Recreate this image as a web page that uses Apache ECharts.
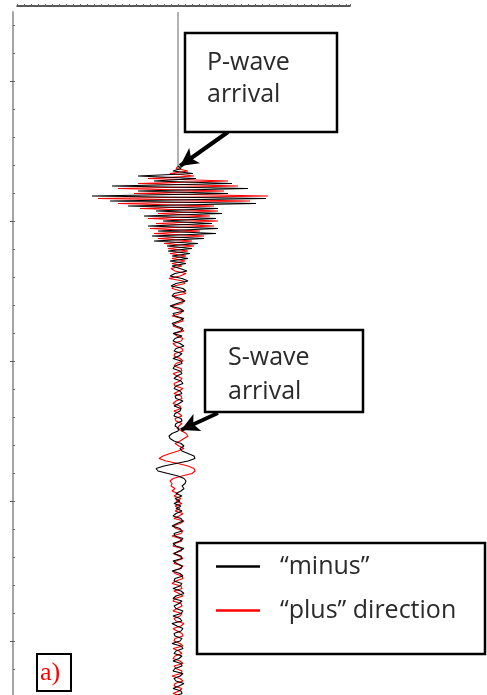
<!DOCTYPE html>
<html>
<head>
<meta charset="utf-8">
<script src="https://cdn.jsdelivr.net/npm/echarts@6/dist/echarts.min.js"></script>
<style>
html,body{margin:0;padding:0;background:#fff;}
#chart{width:487px;height:695px;}
</style>
</head>
<body>
<div id="chart"></div>
<script>
// ---- sampling of the traces (time in px-like units, 0 = top of time axis) ----
const SAMPLE_START = 154;
const SAMPLE_STEP = 2.5;
const PRE_EVENT_END = 156;

// "minus" trace (black) amplitudes
const minusP = [
  0, 3, -5, 15, -40, 18, -24, 54, -66, 70,
  -40, 50, -86, 88, -68, 78, -50, 40, -22, 44,
  -34, 38, -15, 34, -30, 40, -20, 38, -26, 26,
  -24, 20, -11, 14, -10, 12, -6, 10, -8, 8
];
const minusCoda = [
  -6, 2, 9, -3, -8, 4, 10, -2, -7, 5,
  8, -4, -6, 3, 7, -1, -8, 2, 6, -5,
  -3, 6, 1, -6, -2, 5, 3, -5, 4, -3,
  -5, 2, 6, -2, -4, 4, 1, -5, 3, 4,
  -3, -5, 2, 4, -1, -4, 3, 5, -2, -4,
  2, 4, -3, -2, 5, 1, -4, 3, 2, -3,
  -4, 3, 4, -2, -3, 1
];
const minusS = [
  0, -6, -9, -8, -4, 3, 6, 2, 4, 10,
  16, 17, 10, -2, -14, -22, -20, -10, 0, 6,
  8, 7, 4, 6, 3, -2, 4, -3, 2, -4,
  3, -2
];
const minusTail = [
  4, -2, -5, 3, 5, -1, -6, 2, 4, -4,
  -3, 5, 2, -5, -2, 6, 1, -4, 3, 4,
  -5, -1, 4, 3, -6, 2, 5, -3, -4, 4,
  2, -5, 3, 6, -2, -5, 4, 1, -4, -2,
  5, 3, -5, 2, 4, -6, -1, 5, 3, -4,
  -3, 4, 2, -6, 3, 5, -2, -4, 4, 1,
  -5, 3, 4, -3, -5, 5, 2, -4, -2, 6,
  1, -5, 3, 4, -3
];

// "plus" trace (red) amplitudes
const plusP = [
  0, -2, 10, -8, 16, -30, 50, -40, 60, -60,
  46, -44, 90, -80, 72, -60, 36, -38, 40, -20,
  32, -30, 40, -22, 36, -28, 22, -24, 26, -20,
  14, -14, 16, -10, 10, -8, 8, -6, 7, -6
];
const plusCoda = [
  4, -7, -3, 8, 2, -9, 5, 7, -4, -6,
  3, 8, -5, -2, 6, 4, -7, -3, 5, 2,
  -6, 4, 5, -3, -5, 2, 6, -4, -1, 5,
  3, -5, -2, 4, 5, -3, -4, 2, 5, -2,
  -4, 3, 4, -5, -1, 4, 2, -4, -3, 5,
  1, -4, 3, 4, -2, -5, 2, 3, -4, 1,
  4, -3, -2, 4, 1, -1
];
const plusS = [
  4, 8, 10, 6, 2, -3, 1, 6, 0, -8,
  -15, -19, -12, 0, 10, 16, 17, 14, 4, -5,
  -8, -6, -7, -3, -6, 0, -4, 3, -2, 4,
  -3, 2
];
const plusTail = [
  -3, 5, 1, -4, 6, 2, -5, -2, 5, 3,
  -6, 2, 4, -3, -5, 4, 3, -5, 1, 5,
  -2, -4, 5, 2, -5, -3, 4, 5, -2, -6,
  3, 4, -4, 1, 5, -3, -5, 3, 4, -1,
  -5, 4, 2, -4, -2, 6, 3, -5, -1, 4,
  5, -3, -4, 2, 5, -5, 1, 4, -3, -5,
  2, 5, -4, -2, 4, 3, -6, 2, 5, -3,
  -4, 4, 1, -5, 3
];

// left time-axis ticks
const majorTicks = [69, 209, 349, 489, 629];
const minorTicks = [13, 41, 97, 125, 153, 181, 237, 265, 293, 321, 377, 405, 433, 461, 517, 545, 573, 601, 657];

// annotation arrows [amplitude, time]
const pArrow = [[50, 120], [2, 154]];
const sArrow = [[40, 401], [3, 418]];

const seriesNames = ['\u201Cminus\u201D', '\u201Cplus\u201D direction'];

function toPoints(amps) {
  return amps.map((a, i) => [a, SAMPLE_START + i * SAMPLE_STEP]);
}
const minusData = toPoints([].concat(minusP, minusCoda, minusS, minusTail));
const plusData = toPoints([].concat(plusP, plusCoda, plusS, plusTail));

const chart = echarts.init(document.getElementById('chart'), null, {renderer: 'canvas'});
const FONT = '"Open Sans", Lato, sans-serif';

const yBase = {
  type: 'value', inverse: true, min: 0, max: 683, position: 'left',
  axisLabel: {show: false}, splitLine: {show: false}
};

chart.setOption({
  animation: false,
  backgroundColor: '#fff',
  grid: {left: 17, right: 137, top: 12, bottom: 0},
  xAxis: {
    type: 'value', min: -161, max: 172, interval: 7, position: 'top', offset: 6,
    axisLine: {show: true, onZero: false, lineStyle: {color: '#222', width: 1.5}},
    axisTick: {show: true, length: 2, lineStyle: {color: '#666'}},
    axisLabel: {show: false}, splitLine: {show: false}
  },
  yAxis: [
    Object.assign({}, yBase, {
      offset: 4,
      axisLine: {show: true, onZero: false, lineStyle: {color: '#a5a5a5', width: 2}},
      axisTick: {show: true, inside: true, length: 2, customValues: majorTicks.concat(minorTicks), lineStyle: {color: '#666'}}
    }),
    Object.assign({}, yBase, {
      offset: 4,
      axisLine: {show: false, onZero: false},
      axisTick: {show: true, inside: false, length: 3, customValues: majorTicks, lineStyle: {color: '#555'}}
    })
  ],
  legend: {
    show: true, orient: 'vertical', left: 216, top: 554, padding: 0,
    itemWidth: 44, itemHeight: 2.5, itemGap: 19, icon: 'rect',
    selectedMode: false,
    data: seriesNames,
    textStyle: {fontFamily: FONT, fontSize: 25, color: '#2a2a2a', padding: [0, 0, 0, 15]}
  },
  series: [
    {
      name: 'pre-event', type: 'line', showSymbol: false, silent: true,
      data: [[0, 0], [0, PRE_EVENT_END]],
      lineStyle: {color: '#9a9a9a', width: 1.5},
      markLine: {
        silent: true, symbol: ['none', 'arrow'], symbolSize: [14, 18],
        label: {show: false},
        lineStyle: {color: '#000', width: 4, type: 'solid'},
        data: [
          [{coord: pArrow[0]}, {coord: pArrow[1]}],
          [{coord: sArrow[0]}, {coord: sArrow[1]}]
        ]
      }
    },
    {
      name: seriesNames[1], type: 'line', showSymbol: false, data: plusData,
      lineStyle: {color: '#ff0000', width: 1.1}, itemStyle: {color: '#ff0000'}
    },
    {
      name: seriesNames[0], type: 'line', showSymbol: false, data: minusData,
      lineStyle: {color: '#000', width: 1.1}, itemStyle: {color: '#000'}
    }
  ],
  graphic: [
    {type: 'rect', shape: {x: 185, y: 33, width: 152, height: 99},
     style: {fill: '#fff', stroke: '#000', lineWidth: 2.5}, z: 100},
    {type: 'text', x: 207, y: 47, z: 101,
     style: {text: 'P-wave\narrival', font: '25px ' + FONT, fill: '#2a2a2a', lineHeight: 32, verticalAlign: 'top'}},
    {type: 'rect', shape: {x: 205, y: 330, width: 158, height: 82},
     style: {fill: '#fff', stroke: '#000', lineWidth: 2.5}, z: 100},
    {type: 'text', x: 228, y: 341, z: 101,
     style: {text: 'S-wave\narrival', font: '25px ' + FONT, fill: '#2a2a2a', lineHeight: 34, verticalAlign: 'top'}},
    {type: 'rect', shape: {x: 197, y: 543, width: 288, height: 111},
     style: {fill: 'none', stroke: '#000', lineWidth: 2.5}, z: 100},
    {type: 'rect', shape: {x: 37, y: 654, width: 34, height: 37},
     style: {fill: '#fff', stroke: '#000', lineWidth: 2}, z: 100},
    {type: 'text', x: 40, y: 673, z: 101,
     style: {text: 'a)', font: '26px "Liberation Serif", serif', fill: '#ff0000', verticalAlign: 'middle'}}
  ]
});
</script>
</body>
</html>
